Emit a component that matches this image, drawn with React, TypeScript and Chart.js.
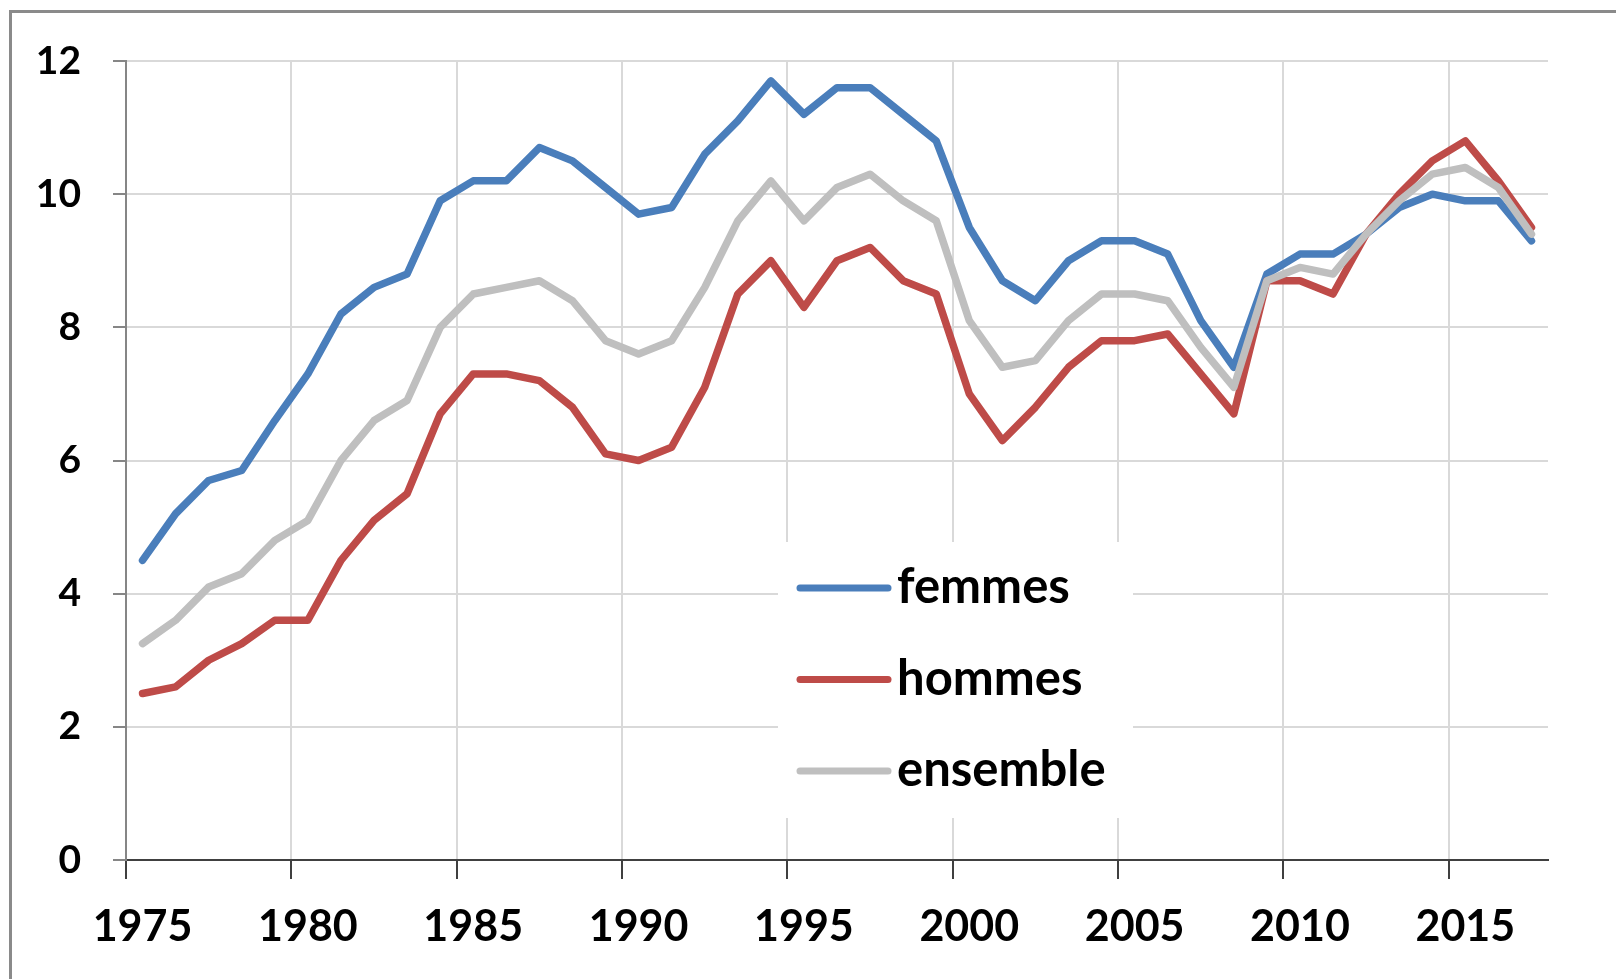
import React, { useEffect, useRef } from "react";
import { Chart, registerables } from "chart.js";

Chart.register(...registerables);

const years = [
  1975, 1976, 1977, 1978, 1979, 1980, 1981, 1982, 1983, 1984,
  1985, 1986, 1987, 1988, 1989, 1990, 1991, 1992, 1993, 1994,
  1995, 1996, 1997, 1998, 1999, 2000, 2001, 2002, 2003, 2004,
  2005, 2006, 2007, 2008, 2009, 2010, 2011, 2012, 2013, 2014,
  2015, 2016, 2017,
];

const femmes = [
  4.5, 5.2, 5.7, 5.85, 6.6, 7.3, 8.2, 8.6, 8.8, 9.9,
  10.2, 10.2, 10.7, 10.5, 10.1, 9.7, 9.8, 10.6, 11.1, 11.7,
  11.2, 11.6, 11.6, 11.2, 10.8, 9.5, 8.7, 8.4, 9.0, 9.3,
  9.3, 9.1, 8.1, 7.4, 8.8, 9.1, 9.1, 9.4, 9.8, 10.0,
  9.9, 9.9, 9.3,
];

const hommes = [
  2.5, 2.6, 3.0, 3.25, 3.6, 3.6, 4.5, 5.1, 5.5, 6.7,
  7.3, 7.3, 7.2, 6.8, 6.1, 6.0, 6.2, 7.1, 8.5, 9.0,
  8.3, 9.0, 9.2, 8.7, 8.5, 7.0, 6.3, 6.8, 7.4, 7.8,
  7.8, 7.9, 7.3, 6.7, 8.7, 8.7, 8.5, 9.4, 10.0, 10.5,
  10.8, 10.2, 9.5,
];

const ensemble = [
  3.25, 3.6, 4.1, 4.3, 4.8, 5.1, 6.0, 6.6, 6.9, 8.0,
  8.5, 8.6, 8.7, 8.4, 7.8, 7.6, 7.8, 8.6, 9.6, 10.2,
  9.6, 10.1, 10.3, 9.9, 9.6, 8.1, 7.4, 7.5, 8.1, 8.5,
  8.5, 8.4, 7.7, 7.1, 8.7, 8.9, 8.8, 9.4, 9.9, 10.3,
  10.4, 10.1, 9.4,
];

const seriesNames = ["femmes", "hommes", "ensemble"];
const seriesColors = ["#4A7EBB", "#BE4B48", "#BFBFBF"];

const FONT = "Lato, 'Open Sans', 'DejaVu Sans', sans-serif";

const legendPlugin = {
  id: "customLegend",
  beforeDatasetsDraw(chart: any) {
    const { ctx, chartArea } = chart;
    const boxL = chartArea.left + 652;
    const boxT = chartArea.top + 481;
    const boxW = 355;
    const boxH = 276;
    ctx.save();
    ctx.fillStyle = "#ffffff";
    ctx.fillRect(boxL, boxT, boxW, boxH);
    ctx.restore();
  },
  afterDatasetsDraw(chart: any) {
    const { ctx, chartArea } = chart;
    const lineX0 = chartArea.left + 674;
    const lineX1 = chartArea.left + 762;
    const textX = chartArea.left + 771;
    const rowY0 = chartArea.top + 527;
    const rowGap = 91.5;
    ctx.save();
    ctx.font = `bold 49px ${FONT}`;
    ctx.textBaseline = "alphabetic";
    ctx.textAlign = "left";
    seriesNames.forEach((name, i) => {
      const y = rowY0 + i * rowGap;
      ctx.strokeStyle = seriesColors[i];
      ctx.lineWidth = 7;
      ctx.lineCap = "round";
      ctx.beginPath();
      ctx.moveTo(lineX0, y);
      ctx.lineTo(lineX1, y);
      ctx.stroke();
      ctx.fillStyle = "#000000";
      ctx.fillText(name, textX, y + 15);
    });
    ctx.restore();
  },
};

export default function App() {
  const canvasRef = useRef<HTMLCanvasElement | null>(null);

  useEffect(() => {
    const canvas = canvasRef.current;
    if (!canvas) return;
    const seriesData = [femmes, hommes, ensemble];
    const chart = new Chart(canvas, {
      type: "line",
      data: {
        labels: years.map(String),
        datasets: seriesData.map((d, i) => ({
          label: seriesNames[i],
          data: d,
          borderColor: seriesColors[i],
          backgroundColor: seriesColors[i],
          borderWidth: 7.5,
          pointRadius: 0,
          pointHoverRadius: 0,
          tension: 0,
          fill: false,
          borderJoinStyle: "round",
          borderCapStyle: "round",
          order: 2 - i,
        })),
      },
      options: {
        responsive: false,
        animation: false,
        devicePixelRatio: 1,
        layout: { padding: { left: 0, top: 61, right: 68, bottom: 0 } },
        plugins: {
          legend: { display: false },
          tooltip: { enabled: false },
          title: { display: false },
        },
        scales: {
          x: {
            type: "category",
            offset: true,
            afterFit(scale: any) {
              scale.height = 119;
            },
            grid: {
              offset: true,
              drawTicks: true,
              tickLength: 19,
              lineWidth: 2,
              tickWidth: 2,
              color: (c: any) =>
                c.index !== undefined && c.index % 5 === 0 ? "#D9D9D9" : "rgba(0,0,0,0)",
              tickColor: (c: any) =>
                c.index !== undefined && c.index % 5 === 0 ? "#404040" : "rgba(0,0,0,0)",
            },
            border: { display: true, color: "#404040", width: 2 },
            ticks: {
              autoSkip: false,
              maxRotation: 0,
              minRotation: 0,
              padding: 22,
              color: "#000000",
              font: { family: FONT, size: 43, weight: "bold" },
              callback: (_v: any, idx: number) =>
                years[idx] % 5 === 0 ? String(years[idx]) : "",
            },
          },
          y: {
            min: 0,
            max: 12,
            afterFit(scale: any) {
              scale.width = 126;
            },
            grid: {
              color: "#D9D9D9",
              lineWidth: 2,
              tickLength: 13,
              tickColor: "#868686",
              tickWidth: 2,
            },
            border: { display: true, color: "#868686", width: 2 },
            ticks: {
              stepSize: 2,
              padding: 32,
              color: "#000000",
              font: { family: FONT, size: 39, weight: "bold" },
            },
          },
        },
      },
      plugins: [legendPlugin],
    } as any);
    return () => chart.destroy();
  }, []);

  return (
    <div
      style={{
        position: "fixed",
        left: 0,
        top: 0,
        width: 1616,
        height: 979,
        background: "#ffffff",
        overflow: "hidden",
      }}
    >
      <div
        style={{
          position: "absolute",
          left: 9,
          top: 10,
          width: 1700,
          height: 1100,
          borderLeft: "3px solid #8A8A8A",
          borderTop: "3px solid #8A8A8A",
        }}
      />
      <canvas
        ref={canvasRef}
        width={1616}
        height={979}
        style={{ position: "absolute", left: 0, top: 0, width: 1616, height: 979 }}
      />
    </div>
  );
}
